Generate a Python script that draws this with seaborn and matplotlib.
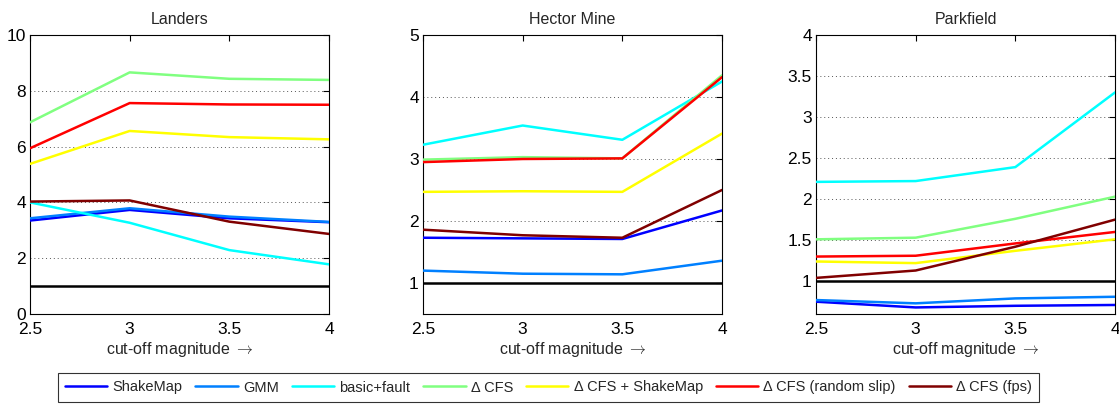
import matplotlib
matplotlib.use("Agg")
import matplotlib.pyplot as plt
import seaborn as sns
import pandas as pd

# ---- data ----
cutoffs = [2.5, 3.0, 3.5, 4.0]
series_names = ["ShakeMap", "GMM", "basic+fault", "\u0394 CFS", "\u0394 CFS + ShakeMap",
                "\u0394 CFS (random slip)", "\u0394 CFS (fps)"]
series_colors = ["#0000ff", "#0080ff", "#00ffff", "#80ff80", "#ffff00", "#ff0000", "#800000"]

landers_shakemap = [3.35, 3.73, 3.43, 3.29]
landers_gmm = [3.43, 3.79, 3.49, 3.30]
landers_basic = [4.00, 3.27, 2.29, 1.78]
landers_cfs = [6.87, 8.66, 8.43, 8.39]
landers_cfs_shakemap = [5.38, 6.56, 6.34, 6.26]
landers_cfs_random = [5.94, 7.56, 7.51, 7.50]
landers_cfs_fps = [4.03, 4.07, 3.31, 2.87]

hector_shakemap = [1.73, 1.72, 1.71, 2.17]
hector_gmm = [1.20, 1.15, 1.14, 1.36]
hector_basic = [3.23, 3.54, 3.31, 4.25]
hector_cfs = [2.99, 3.03, 3.01, 4.35]
hector_cfs_shakemap = [2.47, 2.48, 2.47, 3.41]
hector_cfs_random = [2.95, 3.00, 3.01, 4.32]
hector_cfs_fps = [1.86, 1.77, 1.73, 2.50]

park_shakemap = [0.75, 0.68, 0.70, 0.71]
park_gmm = [0.77, 0.73, 0.79, 0.81]
park_basic = [2.21, 2.22, 2.39, 3.30]
park_cfs = [1.51, 1.53, 1.76, 2.03]
park_cfs_shakemap = [1.24, 1.22, 1.37, 1.51]
park_cfs_random = [1.30, 1.31, 1.46, 1.60]
park_cfs_fps = [1.04, 1.13, 1.42, 1.75]

panel_titles = ["Landers", "Hector Mine", "Parkfield"]
panel_data = [
    [landers_shakemap, landers_gmm, landers_basic, landers_cfs, landers_cfs_shakemap,
     landers_cfs_random, landers_cfs_fps],
    [hector_shakemap, hector_gmm, hector_basic, hector_cfs, hector_cfs_shakemap,
     hector_cfs_random, hector_cfs_fps],
    [park_shakemap, park_gmm, park_basic, park_cfs, park_cfs_shakemap,
     park_cfs_random, park_cfs_fps],
]
panel_ylims = [(0, 10), (0.5, 5), (0.6, 4)]
panel_yticks = [[0, 2, 4, 6, 8, 10], [1, 2, 3, 4, 5], [1, 1.5, 2, 2.5, 3, 3.5, 4]]
panel_yticklabels = [["0", "2", "4", "6", "8", "10"], ["1", "2", "3", "4", "5"],
                     ["1", "1.5", "2", "2.5", "3", "3.5", "4"]]
xticklabels = ["2.5", "3", "3.5", "4"]
reference_level = 1.0

# ---- style ----
sns.set_style("white")
plt.rcParams["font.family"] = ["Liberation Sans", "DejaVu Sans"]
plt.rcParams["font.size"] = 11
plt.rcParams["mathtext.fontset"] = "cm"

fig = plt.figure(figsize=(11.19, 4.05), dpi=100)
lefts = [30, 423, 816]
W, H = 1119, 405
axes = []
for i in range(3):
    ax = fig.add_axes([lefts[i] / W, 1 - 314 / H, 299 / W, 279 / H])
    axes.append(ax)

palette = dict(zip(series_names, series_colors))
for i, ax in enumerate(axes):
    rows = []
    for name, vals in zip(series_names, panel_data[i]):
        for x, y in zip(cutoffs, vals):
            rows.append({"cutoff": x, "value": y, "series": name})
    df = pd.DataFrame(rows)
    ax.axhline(reference_level, color="black", lw=1.8, zorder=3)
    sns.lineplot(data=df, x="cutoff", y="value", hue="series", hue_order=series_names,
                 palette=palette, ax=ax, lw=1.8, legend=False, sort=False, zorder=4)
    ax.set_xlim(2.5, 4)
    ax.set_ylim(*panel_ylims[i])
    ax.set_xticks(cutoffs)
    ax.set_xticklabels(xticklabels, fontsize=12.5)
    ax.set_yticks(panel_yticks[i])
    ax.set_yticklabels(panel_yticklabels[i], fontsize=12.5)
    ax.set_title(panel_titles[i], fontsize=11.5, pad=8)
    ax.set_xlabel("cut-off magnitude $\\rightarrow$", fontsize=11.5, labelpad=2)
    ax.set_ylabel("")
    ax.yaxis.grid(True, linestyle=(0, (1, 3)), color="#555555", lw=0.7)
    ax.xaxis.grid(False)
    ax.tick_params(direction="in", top=True, right=True, length=4, width=0.8,
                   colors="black")
    ax.tick_params(axis="x", pad=6)
    ax.tick_params(axis="y", pad=3)
    for s in ax.spines.values():
        s.set_color("black")
        s.set_linewidth(0.8)

handles = [plt.Line2D([], [], color=c, lw=1.8) for c in series_colors]
leg = fig.legend(handles, series_names, loc="center", ncol=7,
                 bbox_to_anchor=(548.5 / W, 1 - 387.5 / H), fontsize=10.5,
                 frameon=True, fancybox=False, edgecolor="black",
                 handlelength=2.9, columnspacing=0.9, handletextpad=0.35,
                 borderpad=0.5, borderaxespad=0)
leg.get_frame().set_linewidth(0.8)

fig.savefig("out.png", dpi=100)
